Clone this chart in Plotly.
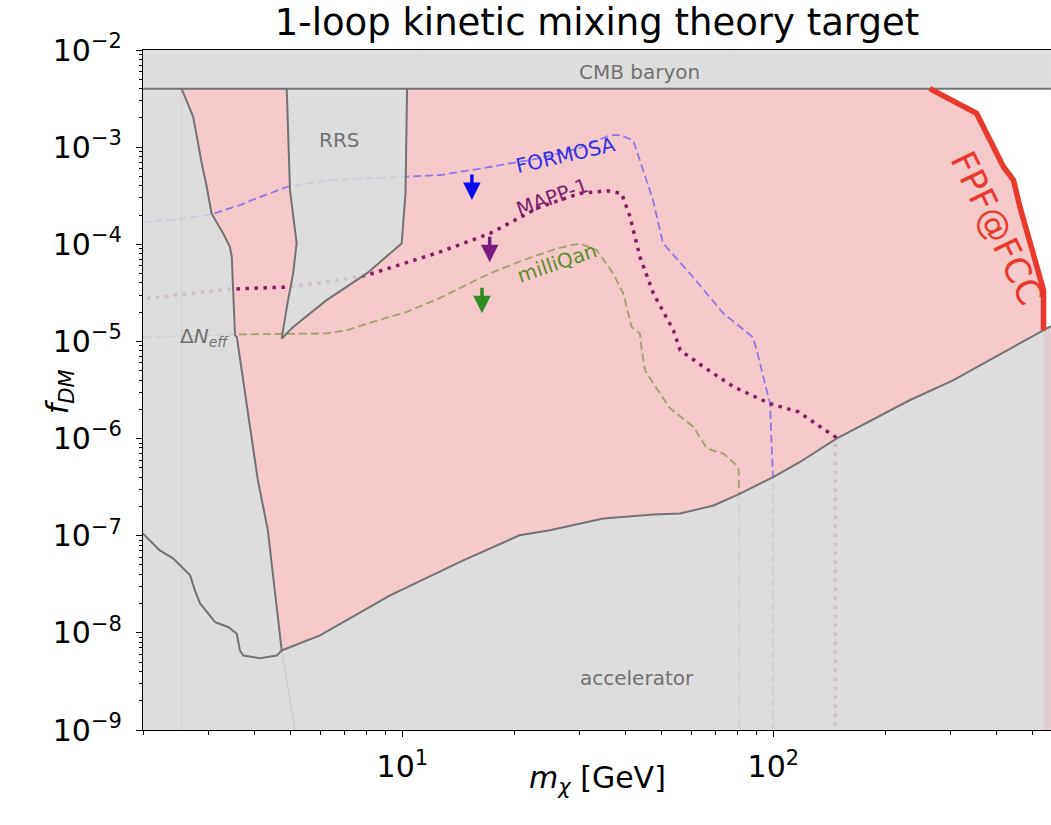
import numpy as np
import plotly.graph_objects as go

# ---------------- data (mass in GeV, fraction f_DM) ----------------
f_cmb = 4e-3
f_top, f_bot = 1e-2, 1e-9
m_min, m_max = 2.0, 560.0

# Delta N_eff boundary (left edge of the target region)
neff_m = [2.54, 2.73, 2.88, 2.97, 3.06, 3.29, 3.43, 3.47, 3.54, 3.58, 4.08, 4.34, 4.73]
neff_f = [4e-3, 2.06e-3, 6.81e-4, 3.91e-4, 2.08e-4, 1.29e-4, 9.42e-5, 7.43e-5,
          1.16e-5, 1.11e-5, 3.72e-7, 1.14e-7, 6.59e-9]
neff_tail_m = [4.73, 5.14]
neff_tail_f = [6.59e-9, 1e-9]
neff_vline_m = 2.54

# RRS region outline (left edge top->tip, right edge tip->top)
rrs_left_m = [4.88, 4.92, 4.98, 5.19, 5.08, 4.92, 4.80, 4.73]
rrs_left_f = [4e-3, 1.18e-3, 3.61e-4, 1.03e-4, 5.05e-5, 2.66e-5, 1.47e-5, 1.07e-5]
rrs_right_m = [4.73, 5.08, 6.25, 8.02, 9.96, 10.2, 10.3]
rrs_right_f = [1.07e-5, 1.41e-5, 2.66e-5, 5.01e-5, 1.02e-4, 3.37e-4, 4e-3]

# accelerator bound (low-mass wiggle, then rising branch)
acc_m = [2.0, 2.22, 2.41, 2.68, 2.76, 2.85, 3.13, 3.39, 3.58, 3.65, 3.73, 4.13, 4.59,
         4.73, 6.00, 9.27, 14.6, 17.2, 20.7, 25.0, 34.8, 47.5, 56.1, 69.0, 81.4,
         100, 118, 148, 233, 305, 535, 560]
acc_f = [1.05e-7, 7.07e-8, 5.85e-8, 3.91e-8, 2.74e-8, 2.01e-8, 1.29e-8, 1.15e-8,
         9.8e-9, 6.59e-9, 5.85e-9, 5.49e-9, 5.85e-9,
         6.59e-9, 9.4e-9, 2.43e-8, 5.57e-8, 7.36e-8, 1.01e-7, 1.14e-7, 1.50e-7,
         1.65e-7, 1.69e-7, 2.05e-7, 2.71e-7, 4.02e-7, 5.74e-7, 1.0e-6, 2.48e-6,
         3.98e-6, 1.30e-5, 1.44e-5]
acc_join = 13  # index where the wiggle meets the rising branch

# FPF@FCC reach
fpf_m = [264, 353, 417, 444, 462, 513, 535, 535]
fpf_f = [4e-3, 2.23e-3, 6.28e-4, 4.58e-4, 2.43e-4, 6.35e-5, 3.37e-5, 1.30e-5]

# experiment projections
formosa_m = [2.0, 2.52, 3.06, 3.65, 4.13, 4.90, 6.38, 10.3, 12.6, 16.5, 23.5, 30.1,
             36.3, 38.6, 41.9, 47.4, 50.4, 60.8, 73.3, 88.2, 90.2, 95.0, 98.0,
             99.1, 99.7, 99.7]
formosa_f = [1.70e-4, 1.82e-4, 2.04e-4, 2.53e-4, 3.06e-4, 3.91e-4, 4.58e-4, 5.03e-4,
             5.15e-4, 6.08e-4, 7.7e-4, 9.8e-4, 1.33e-3, 1.33e-3, 1.18e-3, 2.85e-4,
             1.03e-4, 4.58e-5, 1.95e-5, 1.10e-5, 8.11e-6, 3.68e-6, 2.29e-6,
             7.57e-7, 4.36e-7, 1e-9]

mapp_m = [2.05, 3.43, 4.78, 6.00, 8.02, 12.6, 17.2, 23.5, 30.1, 35.6, 39.0, 41.1,
          43.7, 47.5, 53.8, 56.1, 64.9, 78.2, 98.0, 116.8, 147, 147]
mapp_f = [2.77e-5, 3.45e-5, 3.62e-5, 3.98e-5, 4.81e-5, 8.30e-5, 1.29e-4, 2.43e-4,
          3.34e-4, 3.56e-4, 3.34e-4, 1.92e-4, 7.43e-5, 3.12e-5, 1.30e-5, 8.11e-6,
          5.46e-6, 3.40e-6, 2.29e-6, 1.88e-6, 1.04e-6, 1e-9]

milliqan_m = [2.0, 3.58, 6.25, 7.08, 8.34, 10.3, 12.6, 17.2, 21.2, 26.1, 30.1, 33.4,
              37.0, 39.4, 41.5, 43.7, 44.2, 45.1, 47.5, 52.7, 54.9, 60.9, 66.2,
              69.0, 73.4, 80.6, 80.9, 80.9]
milliqan_f = [1.11e-5, 1.18e-5, 1.21e-5, 1.30e-5, 1.59e-5, 2.02e-5, 2.79e-5, 5.01e-5,
              6.87e-5, 9.06e-5, 1.02e-4, 8.71e-5, 5.01e-5, 3.12e-5, 1.41e-5,
              1.21e-5, 8.11e-6, 5.05e-6, 3.68e-6, 2.04e-6, 1.81e-6, 1.32e-6,
              7.89e-7, 7.57e-7, 7.0e-7, 5.10e-7, 2.71e-7, 1e-9]

# ---------------- styles ----------------
PINK = "#f6cacb"
GREY_FILL = "rgba(216,216,216,0.87)"
EDGE = "#727272"
RED = "#e8392c"
FONT = "DejaVu Sans"

fig = go.Figure()


def poly(xs, ys, color):
    fig.add_trace(go.Scatter(x=xs, y=ys, mode="lines", fill="toself",
                             fillcolor=color, line=dict(width=0),
                             hoverinfo="skip"))


def curve(xs, ys, color, width, dash="solid"):
    fig.add_trace(go.Scatter(x=xs, y=ys, mode="lines",
                             line=dict(color=color, width=width, dash=dash),
                             hoverinfo="skip"))


# theory target region (notched around RRS)
acc_hi_m = acc_m[acc_join:-1]
acc_hi_f = acc_f[acc_join:-1]
pink_m = ([neff_m[0]] + rrs_left_m + rrs_right_m[1:] + fpf_m
          + acc_hi_m[::-1] + neff_m[::-1])
pink_f = ([f_cmb] + rrs_left_f + rrs_right_f[1:] + fpf_f
          + acc_hi_f[::-1] + neff_f[::-1])
poly(pink_m, pink_f, PINK)

# faint guides sitting underneath the excluded regions
curve([neff_vline_m, neff_vline_m], [f_bot, f_cmb], "#bdbdbd", 1.5)
curve(neff_tail_m, neff_tail_f, "#8a8a8a", 1.5)

# projected sensitivities
curve(formosa_m, formosa_f, "rgba(123,104,238,0.85)", 1.8, "8px,4px")
curve(mapp_m, mapp_f, "#8a1a68", 3.5, "3.5px,5.5px")
curve(milliqan_m, milliqan_f, "rgba(128,150,70,0.75)", 1.8, "8px,4px")

# excluded regions: Delta N_eff (above the low-mass accelerator wiggle)
acc_lo_m = acc_m[:acc_join + 1]
acc_lo_f = acc_f[:acc_join + 1]
poly([m_min] + neff_m + acc_lo_m[::-1][1:],
     [f_cmb] + neff_f + acc_lo_f[::-1][1:], GREY_FILL)
poly(acc_m + [m_max, m_min], acc_f + [f_bot, f_bot], GREY_FILL)
poly(rrs_left_m + rrs_right_m[1:], rrs_left_f + rrs_right_f[1:], GREY_FILL)
poly([m_min, m_max, m_max, m_min], [f_cmb, f_cmb, f_top, f_top], GREY_FILL)
poly([fpf_m[-1], acc_m[-1], acc_m[-1], fpf_m[-1]],
     [acc_f[-2], acc_f[-1], f_bot, f_bot], "rgba(235,150,150,0.22)")

# boundaries
curve(neff_m, neff_f, EDGE, 2)
curve(acc_m, acc_f, EDGE, 2)
curve(rrs_left_m + rrs_right_m[1:], rrs_left_f + rrs_right_f[1:], EDGE, 2)
curve([m_min, m_max], [f_cmb, f_cmb], EDGE, 2)
curve(fpf_m, fpf_f, RED, 5.5)

# ---------------- labels ----------------
lg = np.log10


def label(m, f, text, color, size=20, angle=0, **kw):
    fig.add_annotation(x=lg(m), y=lg(f), text=text, showarrow=False,
                       textangle=angle, font=dict(family=FONT, size=size, color=color),
                       **kw)


label(43.7, 5.9e-3, "CMB baryon", "#707070")
label(6.79, 1.18e-3, "RRS", "#707070")
label(42.9, 3.47e-9, "accelerator", "#707070")
label(3.45, 1.11e-5, "Δ<i>N</i><sub><i>eff</i></sub>", "#707070", xanchor="right")
label(27.6, 8.28e-4, "FORMOSA", "#3030e0", angle=-13)
label(25.4, 3.04e-4, "MAPP-1", "#7b2070", angle=-20)
label(26.1, 6.35e-5, "milliQan", "#5a8f2a", angle=-19)
label(400, 1.47e-4, "FPF@FCC", RED, size=35, angle=64)

for m, f, c in [(15.4, 2.85e-4, "#0a0af0"), (17.2, 6.55e-5, "#7a1a80"),
                (16.4, 1.95e-5, "#2e8b22")]:
    fig.add_annotation(x=lg(m), y=lg(f), ax=0, ay=-27, text="", showarrow=True,
                       arrowhead=2, arrowsize=1, arrowwidth=3.5, arrowcolor=c)

# axis titles
fig.add_annotation(x=0.5, y=-0.104, xref="paper", yref="paper",
                   text="<i>m<sub>χ</sub></i> [GeV]", showarrow=False,
                   font=dict(family=FONT, size=30, color="black"))
fig.add_annotation(x=-0.116, y=0.497, xref="paper", yref="paper",
                   text="<i>f<sub>DM</sub></i>", showarrow=False, textangle=-90,
                   font=dict(family=FONT, size=30, color="black"))

# ---------------- axes ----------------
x_major = [10, 100]
x_major_text = ["10<sup>1</sup>", "10<sup>2</sup>"]
x_minor = [k * d for d in (1, 10, 100) for k in range(2, 10) if k * d <= m_max]
y_major = [10.0 ** e for e in range(-9, -1)]
y_major_text = ["10<sup>\u2212%d</sup>" % e for e in range(9, 1, -1)]
y_minor = [k * 10.0 ** e for e in range(-9, -2) for k in range(2, 10)]

common = dict(type="log", showline=True, linecolor="black", linewidth=1.3,
              ticks="outside", ticklen=6, tickwidth=1.2, tickcolor="black",
              showgrid=False, zeroline=False,
              tickfont=dict(family=FONT, size=30, color="black"))

fig.update_xaxes(range=[lg(m_min), lg(m_min) + 908 / 371], mirror=True,
                 tickvals=x_major, ticktext=x_major_text, ticklabelstandoff=4,
                 minor=dict(tickvals=x_minor, ticks="outside", ticklen=3.5,
                            tickwidth=1, tickcolor="black", showgrid=False),
                 **common)
fig.update_yaxes(range=[-9, -2], mirror=False,
                 tickvals=y_major, ticktext=y_major_text, ticklabelstandoff=8,
                 minor=dict(tickvals=y_minor, ticks="outside", ticklen=3,
                            tickwidth=1, tickcolor="black", showgrid=False),
                 **common)

fig.update_layout(
    width=1051, height=825,
    margin=dict(l=143, r=0, t=50, b=95),
    plot_bgcolor="white", paper_bgcolor="white",
    showlegend=False,
    font=dict(family=FONT, color="black"),
    title=dict(text="1-loop kinetic mixing theory target", x=0.568, xanchor="center",
               y=1 - 22 / 825, yanchor="middle",
               font=dict(family=FONT, size=37, color="black")),
)

fig.write_html("out.html")
